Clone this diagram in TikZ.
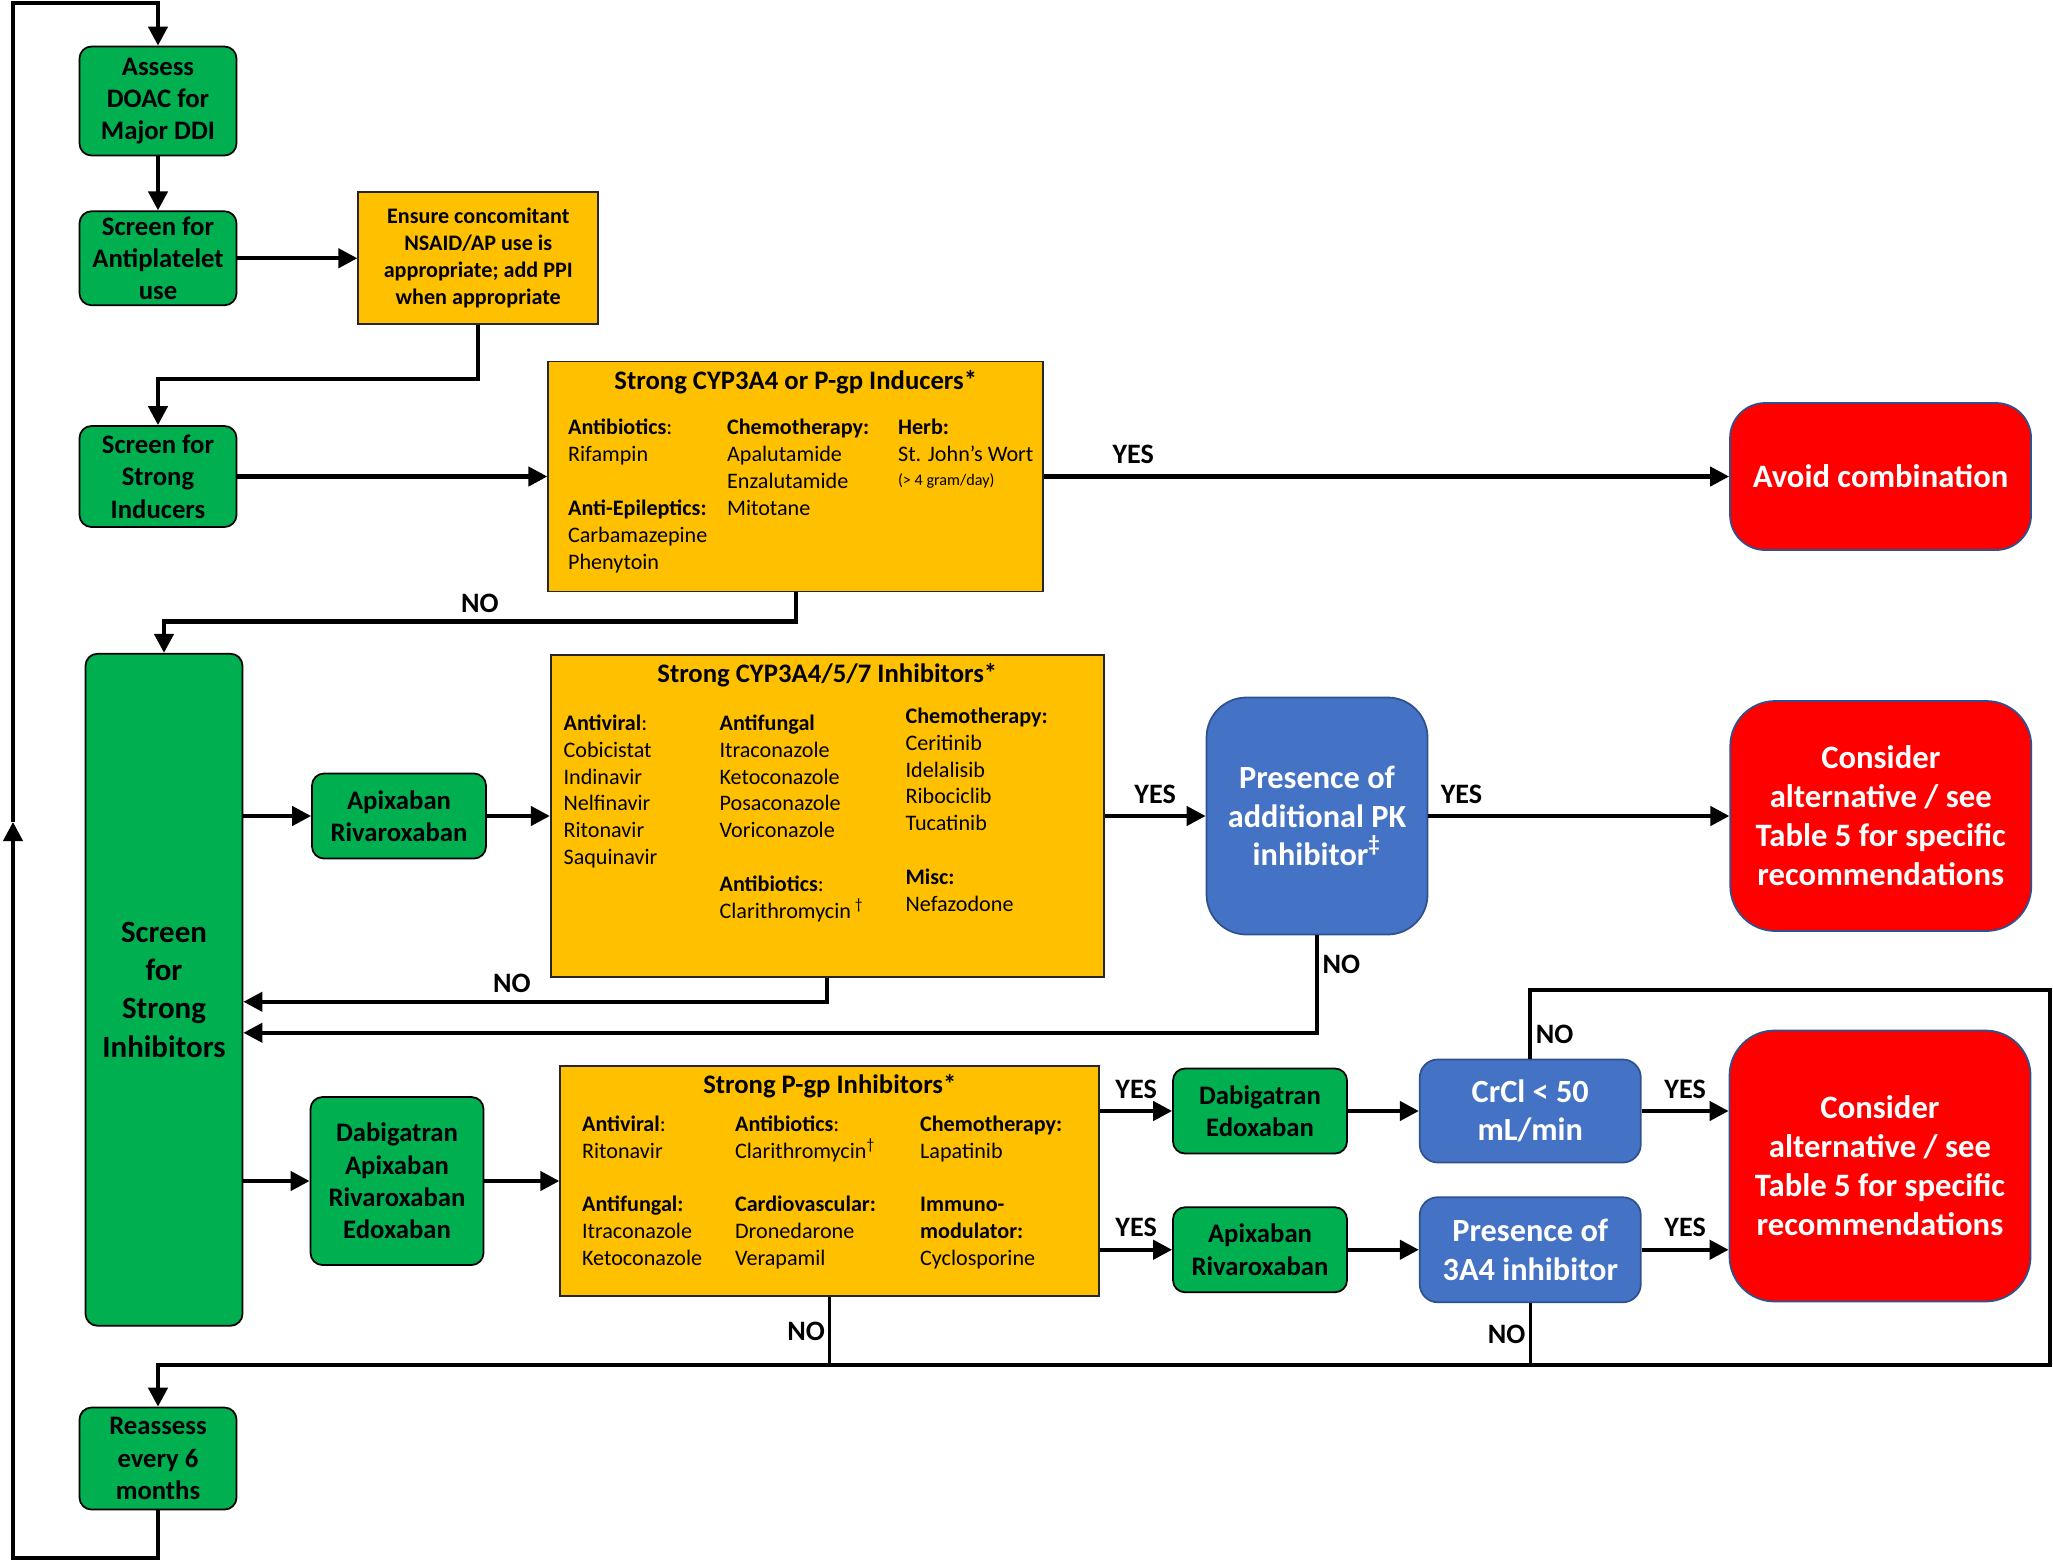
\documentclass[tikz,border=0pt]{standalone}
\usepackage{fontspec}
\setmainfont{Carlito}
\usetikzlibrary{arrows.meta, positioning, calc}

\definecolor{ddigreen}{HTML}{00B050}
\definecolor{ddiyellow}{HTML}{FFC000}
\definecolor{ddired}{HTML}{FF0000}
\definecolor{ddiblue}{HTML}{4472C4}
\definecolor{ddiedge}{HTML}{2F528F}

\begin{document}
\begin{tikzpicture}[
    screen/.style={rectangle, rounded corners=1.2mm, draw=black, line width=0.5pt, fill=ddigreen, align=center, inner sep=1pt, minimum width=1.57cm, font=\bfseries\fontsize{7.6}{9.2}\selectfont},
    drugbox/.style={rectangle, draw=black!85, line width=0.5pt, fill=ddiyellow, inner sep=0pt},
    boxtitle/.style={inner sep=0pt, font=\bfseries\fontsize{7.6}{9}\selectfont},
    druglist/.style={anchor=north west, align=left, inner sep=0pt, font=\fontsize{6.3}{7.64}\selectfont},
    query/.style={rectangle, draw=ddiedge, line width=0.5pt, fill=ddiblue, text=white, align=center, minimum width=2.21cm, font=\bfseries\fontsize{9.2}{10.9}\selectfont},
    outcome/.style={rectangle, rounded corners=4.5mm, draw=ddiedge, line width=0.5pt, fill=ddired, text=white, align=center, minimum width=3.01cm, font=\bfseries\fontsize{9.3}{11.1}\selectfont},
    arrow/.style={->, >={Triangle[length=1.9mm, width=1.9mm]}, line width=1.2pt},
    link/.style={line width=0.8pt},
    lbl/.style={inner sep=1pt, font=\bfseries\fontsize{8}{9.6}\selectfont}
]
\useasboundingbox (0,0) rectangle (20.53,-15.62);

% Left column - screening steps
\node[screen, minimum height=1.09cm] (assess) at (1.58,-1.01) {Assess\\DOAC for\\Major DDI};
\node[screen, minimum height=0.94cm, below=5.4mm of assess] (antiplt) {Screen for\\Antiplatelet\\use};
\node[screen, minimum height=1.01cm, below=11.9mm of antiplt] (induce) {Screen for\\Strong\\Inducers};
\node[screen, minimum height=6.72cm, below=12.5mm of induce, xshift=0.6mm, font=\bfseries\fontsize{8.8}{10.9}\selectfont] (inhib) {Screen\\for\\Strong\\Inhibitors};
\node[screen, minimum height=1.02cm, below=8mm of inhib, xshift=-0.6mm] (reassess) {Reassess\\every 6\\months};

% Antiplatelet and inducers
\node[drugbox, minimum width=2.40cm, minimum height=1.32cm, right=12mm of antiplt, align=center, inner sep=1pt, font=\bfseries\fontsize{6.3}{7.7}\selectfont] (ensure) {Ensure concomitant\\NSAID/AP use is\\appropriate; add PPI\\when appropriate};
\node[drugbox, minimum width=4.95cm, minimum height=2.30cm, right=31mm of induce] (indBox) {};
\node[boxtitle] (indTitle) at ([yshift=-2.2mm]indBox.north) {Strong CYP3A4 or P-gp Inducers*};
\node[druglist] (indA) at ([xshift=2mm, yshift=-5.8mm]indBox.north west) {\textbf{Antibiotics}:\\Rifampin\\[7.64pt]\textbf{Anti-Epileptics:}\\Carbamazepine\\Phenytoin};
\node[druglist] (indB) at ([xshift=17.9mm, yshift=-5.8mm]indBox.north west) {\textbf{Chemotherapy:}\\Apalutamide\\Enzalutamide\\Mitotane};
\node[druglist] (indC) at ([xshift=35mm, yshift=-5.8mm]indBox.north west) {\textbf{Herb:}\\St. John’s Wort\\[-0.9pt]{\fontsize{4.6}{5}\selectfont (> 4 gram/day)}};
\node[outcome, rounded corners=3.5mm, minimum height=1.47cm, right=68.5mm of indBox] (avoid) {Avoid combination};

% Inhibitors - CYP3A4/5/7 path
\node[screen, minimum width=1.74cm, minimum height=0.85cm] (apix) at (3.99,-8.16) {Apixaban\\Rivaroxaban};
\node[drugbox, minimum width=5.53cm, minimum height=3.22cm, right=6.3mm of apix] (cypBox) {};
\node[boxtitle] (cypTitle) at ([yshift=-2.1mm]cypBox.north) {Strong CYP3A4/5/7 Inhibitors*};
\node[druglist] (cypA) at ([xshift=1.3mm, yshift=-6mm]cypBox.north west) {\textbf{Antiviral}:\\Cobicistat\\Indinavir\\Nelfinavir\\Ritonavir\\Saquinavir};
\node[druglist] (cypB) at ([xshift=16.9mm, yshift=-6mm]cypBox.north west) {\textbf{Antifungal}\\Itraconazole\\Ketoconazole\\Posaconazole\\Voriconazole\\[7.64pt]\textbf{Antibiotics}:\\Clarithromycin\,\textsuperscript{†}};
\node[druglist] (cypC) at ([xshift=35.5mm, yshift=-5.3mm]cypBox.north west) {\textbf{Chemotherapy:}\\Ceritinib\\Idelalisib\\Ribociclib\\Tucatinib\\[7.64pt]\textbf{Misc:}\\Nefazodone};
\node[query, rounded corners=4mm, minimum height=2.37cm, right=10.1mm of cypBox] (pk) {Presence of\\additional PK\\inhibitor\textsuperscript{‡}};
\node[outcome, minimum height=2.30cm, right=30.1mm of pk] (alt) {Consider\\alternative / see\\Table 5 for specific\\recommendations};

% Inhibitors - P-gp path
\node[screen, minimum width=1.73cm, minimum height=1.68cm] (dabi) at (3.97,-11.81) {Dabigatran\\Apixaban\\Rivaroxaban\\Edoxaban};
\node[drugbox, minimum width=5.39cm, minimum height=2.30cm, right=7.5mm of dabi] (pgpBox) {};
\node[boxtitle] (pgpTitle) at ([yshift=-2.1mm]pgpBox.north) {Strong P-gp Inhibitors*};
\node[druglist] (pgpA) at ([xshift=2.2mm, yshift=-5mm]pgpBox.north west) {\textbf{Antiviral}:\\Ritonavir\\[7.64pt]\textbf{Antifungal:}\\Itraconazole\\Ketoconazole};
\node[druglist] (pgpB) at ([xshift=17.5mm, yshift=-5mm]pgpBox.north west) {\textbf{Antibiotics}:\\Clarithromycin\textsuperscript{†}\\[7.64pt]\textbf{Cardiovascular:}\\Dronedarone\\Verapamil};
\node[druglist] (pgpC) at ([xshift=36mm, yshift=-5mm]pgpBox.north west) {\textbf{Chemotherapy:}\\Lapatinib\\[7.64pt]\textbf{Immuno-}\\\textbf{modulator:}\\Cyclosporine};
\node[screen, minimum width=1.74cm, minimum height=0.85cm] (dabedo) at (12.60,-11.11) {Dabigatran\\Edoxaban};
\node[query, rounded corners=1.8mm, minimum height=1.03cm, right=7.1mm of dabedo] (crcl) {CrCl < 50\\mL/min};
\node[screen, minimum width=1.74cm, minimum height=0.85cm, below=5.2mm of dabedo] (apiriv) {Apixaban\\Rivaroxaban};
\node[query, rounded corners=1.8mm, minimum height=1.05cm, right=7.1mm of apiriv] (threeA4) {Presence of\\3A4 inhibitor};
\node[outcome, minimum height=2.71cm] (altTwo) at (18.80,-11.66) {Consider\\alternative / see\\Table 5 for specific\\recommendations};

% Loop and bus points
\coordinate (loopTop) at (0.13,-0.03);
\coordinate (loopMid) at (0.13,-8.22);
\coordinate (loopBot) at (0.13,-15.58);
\coordinate (busEnd) at (20.50,-13.65);

% Arrows
\draw[arrow] (assess) -- (antiplt);
\draw[arrow] (antiplt) -- (ensure);
\draw[arrow] (ensure.south) -- ++(0,-0.54) -| (induce.north);
\draw[arrow] (induce) -- (indBox);
\draw[arrow] (indBox) -- node[lbl, above=2pt, pos=0.13] {YES} (avoid);
\draw[arrow] (indBox.south) -- ++(0,-0.29) -| node[lbl, pos=0.25, above=1pt] {NO} (inhib.north);
\draw[arrow] (inhib.east |- apix) -- (apix);
\draw[arrow] (apix) -- (cypBox);
\draw[arrow] (cypBox) -- node[lbl, above=2pt] {YES} (pk);
\draw[arrow] (pk) -- node[lbl, above=2pt, pos=0.11] {YES} (alt);
\draw[arrow] (cypBox.south) |- node[lbl, pos=0.77, above=1pt] {NO} ([yshift=-1.2mm]inhib.east);
\draw[arrow] (pk.south) |- node[lbl, pos=0.15, right] {NO} ([yshift=-4.3mm]inhib.east);
\draw[arrow] (inhib.east |- dabi) -- (dabi);
\draw[arrow] (dabi) -- (pgpBox);
\draw[arrow] (pgpBox.east |- dabedo) -- node[lbl, above=2pt] {YES} (dabedo);
\draw[arrow] (dabedo) -- (crcl);
\draw[arrow] (crcl) -- node[lbl, above=2pt] {YES} (crcl -| altTwo.west);
\draw[arrow] (pgpBox.east |- apiriv) -- node[lbl, above=2pt] {YES} (apiriv);
\draw[arrow] (apiriv) -- (threeA4);
\draw[arrow] (threeA4) -- node[lbl, above=2pt] {YES} (threeA4 -| altTwo.west);
\draw[arrow] (crcl.north) -- node[lbl, pos=0.35, right] {NO} ++(0,0.69) -| (busEnd) -| (reassess.north);
\draw[link] (pgpBox.south) -- node[lbl, left] {NO} (pgpBox.south |- busEnd);
\draw[link] (threeA4.south) -- node[lbl, left] {NO} (threeA4.south |- busEnd);
\draw[arrow] (reassess.south) |- (loopBot) -- (loopMid);
\draw[arrow] (loopMid) -- (loopTop) -| (assess.north);

\end{tikzpicture}
\end{document}
